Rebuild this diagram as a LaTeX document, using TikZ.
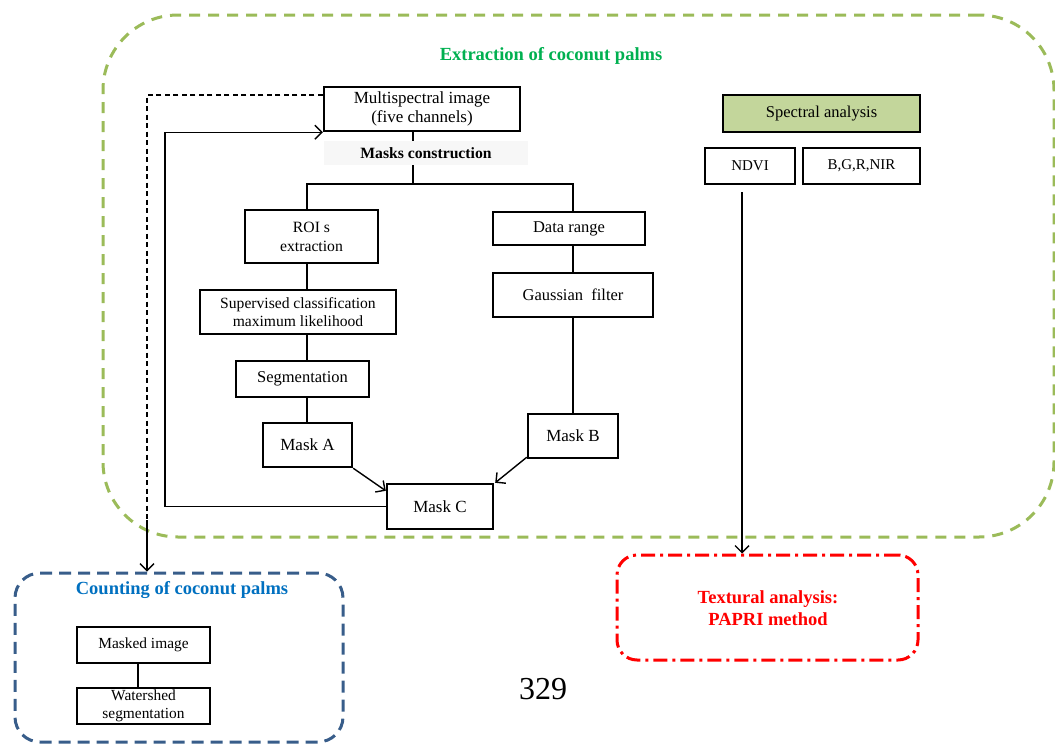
\documentclass[tikz,border=0pt]{standalone}
\usepackage{fontspec}
\setmainfont{Liberation Serif}
\usetikzlibrary{arrows.meta,calc}
\definecolor{gborder}{RGB}{155,187,89}
\definecolor{gtitle}{RGB}{0,176,80}
\definecolor{bborder}{RGB}{56,93,138}
\definecolor{btitle}{RGB}{0,112,192}
\definecolor{specfill}{RGB}{195,214,155}
\begin{document}
\begin{tikzpicture}[x=1pt,y=-1pt,
  box/.style={draw,line width=2.4pt,align=center,inner sep=1pt,font=\fontsize{16.5}{18}\selectfont},
  conn/.style={line width=1.4pt},
  arr/.style={conn,-{Straight Barb[length=7pt,width=14pt]}},
  frame/.style={line width=3pt,rounded corners=#1},
  ttl/.style={font=\fontsize{18.5}{22}\selectfont\bfseries,align=center}]
\useasboundingbox (0,0) rectangle (1055,744);
% big green frame
\node[draw=gborder,frame=75pt,dash pattern=on 11pt off 8pt,minimum width=951pt,minimum height=522pt,inner sep=0pt] (green) at (578.5,276) {};
\node[ttl,text=gtitle] (gt) at (551,56) {Extraction of coconut palms};
% left column
\node[box,minimum width=196pt,minimum height=44pt,font=\fontsize{17}{19}\selectfont] (ms) at (422,109) {Multispectral image\\(five channels)};
\node[fill=black!3,minimum width=204pt,minimum height=24pt,inner sep=0pt,font=\fontsize{15.7}{18}\selectfont\bfseries] (mc) at (426,153) {Masks construction};
\node[box,minimum width=133pt,minimum height=53pt,font=\fontsize{15.7}{19}\selectfont] (roi) at (311.5,236.5) {ROI s\\extraction};
\node[box,minimum width=196pt,minimum height=44pt,font=\fontsize{15.6}{18}\selectfont] (sup) at (298,312) {Supervised classification\\maximum likelihood};
\node[box,minimum width=133pt,minimum height=36pt] (seg) at (302.5,379) {Segmentation};
\node[box,minimum width=89pt,minimum height=44pt,font=\fontsize{17}{19}\selectfont] (ma) at (307.5,445) {Mask A};
\node[box,minimum width=152pt,minimum height=33pt] (dr) at (569,228.5) {Data range};
\node[box,minimum width=160pt,minimum height=44pt] (gf) at (573,295) {Gaussian\ \ filter};
\node[box,minimum width=90pt,minimum height=44pt,font=\fontsize{17}{19}\selectfont] (mb) at (573,436) {Mask B};
\node[box,minimum width=106pt,minimum height=45pt,font=\fontsize{17}{19}\selectfont] (mcc) at (440,506.5) {Mask C};
% right column
\node[box,fill=specfill,minimum width=197pt,minimum height=37pt] (spec) at (821.5,113.5) {Spectral analysis};
\node[box,minimum width=90pt,minimum height=36pt,font=\fontsize{15}{18}\selectfont] (ndvi) at (750,166) {NDVI};
\node[box,minimum width=117pt,minimum height=36pt,font=\fontsize{15}{18}\selectfont] (bgr) at (861.5,166) {B,G,R,NIR};
% red frame
\node[draw=red,frame=20pt,dash pattern=on 14pt off 5pt on 3pt off 5pt,minimum width=301pt,minimum height=105pt,inner sep=0pt] (red) at (767.5,607.5) {};
\node[ttl,text=red] (rt) at (768,608) {Textural analysis:\\PAPRI method};
% blue frame
\node[draw=bborder,frame=25pt,dash pattern=on 12pt off 7pt,minimum width=328pt,minimum height=169pt,inner sep=0pt] (blue) at (179,657.5) {};
\node[ttl,text=btitle] (bt) at (182,590) {Counting of coconut palms};
\node[box,minimum width=133pt,minimum height=36pt,font=\fontsize{15.4}{18}\selectfont] (mi) at (143.5,645) {Masked image};
\node[box,minimum width=133pt,minimum height=36pt,font=\fontsize{15.4}{18}\selectfont] (ws) at (143.5,706) {Watershed\\segmentation};
% page number
\node[font=\fontsize{32}{36}\selectfont] (pn) at (543,689) {329};
% connectors
\coordinate (cl) at (307,0);
\coordinate (cr) at (573,0);
\coordinate (cm) at (413,0);
\coordinate (br) at (413,184);
\draw[conn] (ms.south -| cm) -- (mc.north -| cm);
\draw[conn] (mc.south -| cm) -- (br);
\draw[conn] (br) -- (br -| cl) -- (roi.north -| cl);
\draw[conn] (br) -- (br -| cr) -- (dr.north -| cr);
\draw[conn] (roi.south -| cl) -- (sup.north -| cl);
\draw[conn] (sup.south -| cl) -- (seg.north -| cl);
\draw[conn] (seg.south -| cl) -- (ma.north -| cl);
\draw[conn] (dr.south -| cr) -- (gf.north -| cr);
\draw[conn] (gf.south -| cr) -- (mb.north -| cr);
\draw[arr] (ma.south east) -- ($(mcc.north west)+(0,8)$);
\draw[arr] ($(mb.south west)+(0,-2)$) -- ($(mcc.north east)+(1,0)$);
\coordinate (lc) at (165,0);
\draw[arr] (mcc.west) -- (mcc.west -| lc) |- (ms.south west);
\coordinate (dc) at (147,0);
\coordinate (dtop) at (ms.west |- 0,95);
\coordinate (dbend) at (147,520);
\draw[conn,line width=1.3pt,dash pattern=on 5pt off 3.5pt] (ms.west |- dtop) -- (dtop -| dc) -- (dbend);
\draw[arr] (dbend) -- (blue.north -| dc);
\coordinate (nd) at (742,192);
\draw[arr] (nd) -- (red.north -| nd);
\draw[conn] (mi.south -| 138,0) -- (ws.north -| 138,0);
\end{tikzpicture}
\end{document}
